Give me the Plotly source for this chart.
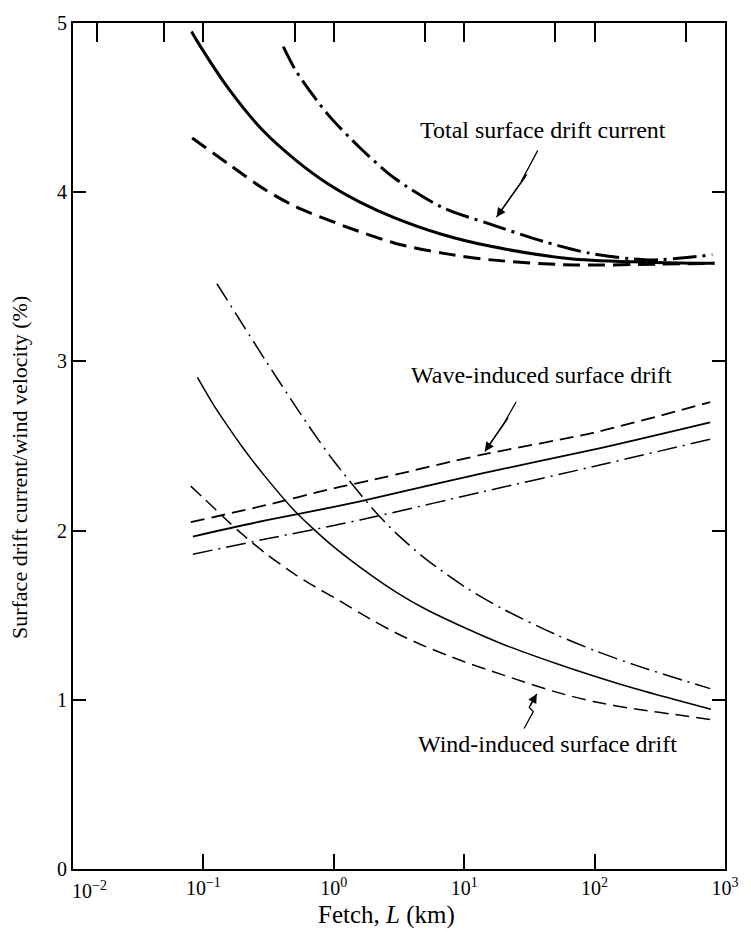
import math
import plotly.graph_objects as go

# Fetch (km) and drift ratio (%) for each curve
total_solid_x = [0.081, 0.09, 0.16, 0.29, 0.51, 0.9, 1.6, 2.9, 6.8, 16, 68, 300, 830]
total_solid_y = [4.95, 4.89, 4.60, 4.36, 4.19, 4.05, 3.94, 3.85, 3.75, 3.68, 3.605, 3.585, 3.58]

total_dash_x = [0.082, 0.16, 0.29, 0.51, 1.2, 2.9, 6.8, 16, 68, 300, 830]
total_dash_y = [4.32, 4.16, 4.02, 3.915, 3.80, 3.70, 3.64, 3.60, 3.57, 3.575, 3.58]

total_dashdot_x = [0.41, 0.51, 0.9, 1.6, 2.9, 6.8, 16, 40, 91, 257, 800]
total_dashdot_y = [4.86, 4.72, 4.46, 4.26, 4.085, 3.91, 3.81, 3.71, 3.64, 3.60, 3.63]

wave_dash_x = [0.08, 0.3, 1, 2, 14, 100, 770]
wave_dash_y = [2.05, 2.15, 2.25, 2.30, 2.45, 2.58, 2.76]

wave_solid_x = [0.083, 0.3, 1, 2, 14, 100, 770]
wave_solid_y = [1.965, 2.06, 2.14, 2.19, 2.34, 2.48, 2.64]

wave_dashdot_x = [0.083, 0.3, 1, 2, 14, 100, 770]
wave_dashdot_y = [1.86, 1.95, 2.03, 2.08, 2.23, 2.38, 2.54]

wind_solid_x = [0.09, 0.12, 0.15, 0.2, 0.3, 0.5, 0.7, 1, 2, 3, 5, 10, 20, 50, 100, 200, 500, 780]
wind_solid_y = [2.906, 2.742, 2.629, 2.491, 2.316, 2.117, 2.009, 1.904, 1.728, 1.637,
                1.538, 1.427, 1.327, 1.216, 1.139, 1.068, 0.984, 0.944]

wind_dash_x = [0.08, 0.1, 0.15, 0.2, 0.3, 0.5, 0.7, 1, 2, 3, 5, 10, 20, 50, 100, 200, 500, 770]
wind_dash_y = [2.263, 2.193, 2.064, 1.977, 1.865, 1.743, 1.673, 1.605, 1.468, 1.395,
               1.316, 1.225, 1.146, 1.047, 0.988, 0.947, 0.904, 0.883]

wind_dashdot_x = [0.127, 0.15, 0.2, 0.3, 0.5, 0.7, 1, 2, 3, 5, 10, 20, 50, 100, 200, 500, 771]
wind_dashdot_y = [3.459, 3.371, 3.218, 3.005, 2.743, 2.577, 2.411, 2.126, 1.985, 1.836,
                  1.670, 1.535, 1.387, 1.291, 1.208, 1.110, 1.066]

# Axis ticks
x_tick_vals = [0.01, 0.1, 1, 10, 100, 1000]
x_tick_text = ["", "10<sup>−1</sup>", "10<sup>0</sup>",
               "10<sup>1</sup>", "10<sup>2</sup>", "10<sup>3</sup>"]
first_x_label = "10<sup>−2</sup>"   # nudged right, clear of the y "0"
top_tick_vals = [0.0154, 0.05, 0.1, 0.5, 1, 5, 10, 50, 100, 500]
y_tick_vals = [0, 1, 2, 3, 4, 5]

x_title = "Fetch, <i>L</i> (km)"
y_title = "Surface drift current/wind velocity (%)"

# Callout labels (position in km, %)
labels = [
    ("Total surface drift current", 40, 4.37),
    ("Wave-induced surface drift", 39.3, 2.92),
    ("Wind-induced surface drift", 43.6, 0.737),
]
# Zig-zag leader lines, last point is the arrow tip
leaders = [
    ([36.6, 27.4, 30.2, 17.7], [4.246, 4.065, 4.105, 3.853]),
    ([25.0, 19.7, 21.7, 14.4], [2.760, 2.620, 2.668, 2.468]),
    ([28.8, 33.9, 31.5, 36.0], [0.830, 0.930, 0.955, 1.035]),
]

THICK = 3.0
THIN = 1.5
INK = "black"
SERIF = "Liberation Serif"

fig = go.Figure()

def add_curve(xs, ys, width, dash):
    fig.add_trace(go.Scatter(
        x=xs, y=ys, mode="lines",
        line=dict(color=INK, width=width, dash=dash, shape="spline", smoothing=0.8),
        showlegend=False, hoverinfo="skip"))

add_curve(total_solid_x, total_solid_y, THICK, "solid")
add_curve(total_dash_x, total_dash_y, THICK, "17px,8px")
add_curve(total_dashdot_x, total_dashdot_y, THICK, "24px,6px,3px,6px")
add_curve(wave_dash_x, wave_dash_y, THIN + 0.3, "14px,7px")
add_curve(wave_solid_x, wave_solid_y, THIN + 0.3, "solid")
add_curve(wave_dashdot_x, wave_dashdot_y, THIN, "20px,6px,2px,6px")
add_curve(wind_solid_x, wind_solid_y, THIN, "solid")
add_curve(wind_dash_x, wind_dash_y, THIN, "14px,7px")
add_curve(wind_dashdot_x, wind_dashdot_y, THIN, "20px,6px,2px,6px")

# Leader lines and arrowheads
for lx, ly in leaders:
    fig.add_trace(go.Scatter(x=lx, y=ly, mode="lines",
                             line=dict(color=INK, width=1.3),
                             showlegend=False, hoverinfo="skip"))
    fig.add_annotation(x=math.log10(lx[-1]), y=ly[-1], xref="x", yref="y",
                       ax=math.log10(lx[-2]), ay=ly[-2], axref="x", ayref="y",
                       text="", showarrow=True, arrowhead=2, arrowsize=1.4,
                       arrowwidth=1.3, arrowcolor=INK)

for txt, lx, ly in labels:
    fig.add_annotation(x=math.log10(lx), y=ly, xref="x", yref="y", text=txt,
                       showarrow=False,
                       font=dict(family=SERIF, size=24, color=INK))

tick_font = dict(family=SERIF, size=20, color=INK)

# First decade label and axis titles
fig.add_annotation(x=0.026, y=-0.008, xref="paper", yref="paper",
                   xanchor="center", yanchor="top",
                   text=first_x_label, showarrow=False, font=tick_font)
fig.add_annotation(x=0.481, y=-0.054, xref="paper", yref="paper",
                   xanchor="center", yanchor="middle",
                   text=x_title, showarrow=False,
                   font=dict(family=SERIF, size=25, color=INK))
fig.add_annotation(x=-0.083, y=0.475, xref="paper", yref="paper",
                   xanchor="center", yanchor="middle", textangle=-90,
                   text=y_title, showarrow=False,
                   font=dict(family=SERIF, size=22, color=INK))

# Dummy trace so the mirrored top/right axes are drawn
fig.add_trace(go.Scatter(x=[1], y=[1], xaxis="x2", yaxis="y2", mode="markers",
                         marker=dict(opacity=0), showlegend=False, hoverinfo="skip"))

fig.update_layout(
    width=751, height=932,
    margin=dict(l=73, r=13, t=14, b=63),
    paper_bgcolor="white", plot_bgcolor="white",
    xaxis=dict(type="log", range=[-2, 3], tickmode="array",
               tickvals=x_tick_vals, ticktext=x_tick_text,
               ticks="inside", ticklen=15, tickwidth=2, tickcolor=INK,
               showline=True, linewidth=2, linecolor=INK, showgrid=False,
               zeroline=False, tickfont=tick_font, ticklabeloverflow="allow"),
    xaxis2=dict(type="log", range=[-2, 3], overlaying="x", side="top",
                tickmode="array", tickvals=top_tick_vals, showticklabels=False,
                ticks="inside", ticklen=19, tickwidth=2, tickcolor=INK,
                showline=True, linewidth=2, linecolor=INK, showgrid=False,
                zeroline=False),
    yaxis=dict(range=[0, 5], tickmode="array", tickvals=y_tick_vals,
               ticks="inside", ticklen=13, tickwidth=2, tickcolor=INK,
               showline=True, linewidth=2, linecolor=INK, showgrid=False,
               zeroline=False, tickfont=tick_font, ticklabeloverflow="allow"),
    yaxis2=dict(range=[0, 5], overlaying="y", side="right", tickmode="array",
                tickvals=[1, 2, 3, 4], showticklabels=False,
                ticks="inside", ticklen=13, tickwidth=2, tickcolor=INK,
                showline=True, linewidth=2, linecolor=INK, showgrid=False,
                zeroline=False),
)

fig.write_html("out.html")
